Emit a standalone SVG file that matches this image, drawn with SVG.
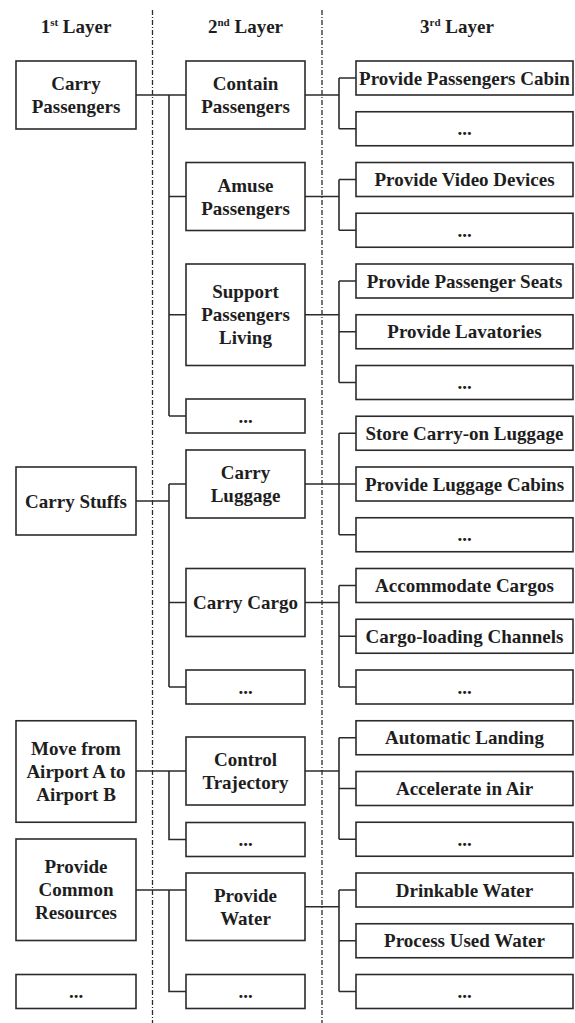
<svg xmlns="http://www.w3.org/2000/svg" width="575" height="1023" viewBox="0 0 575 1023">
<style>
rect{fill:#fff;stroke:#2b2b2b;stroke-width:1.6}
text{font-family:"Liberation Serif","Times New Roman",serif;font-weight:bold;font-size:19px;fill:#1e1e1e;text-anchor:middle}
.c path{fill:none;stroke:#2b2b2b;stroke-width:1.6}
.sep{stroke:#2b2b2b;stroke-width:1.3;stroke-dasharray:5 2 1 2}
.sup{font-size:11px}
</style>
<rect x="0" y="0" width="575" height="1023" style="fill:#fff;stroke:none"/>
<g id="separators">
<line class="sep" x1="152.5" y1="10" x2="152.5" y2="1023"/>
<line class="sep" x1="322" y1="10" x2="322" y2="1023"/>
</g>
<g id="headers">
<text x="76" y="33">1<tspan class="sup" dy="-7">st</tspan><tspan dy="7"> Layer</tspan></text>
<text x="245.5" y="33">2<tspan class="sup" dy="-7">nd</tspan><tspan dy="7"> Layer</tspan></text>
<text x="457" y="33">3<tspan class="sup" dy="-7">rd</tspan><tspan dy="7"> Layer</tspan></text>
</g>
<g id="connectors" class="c">
<path d="M136,95H186M169,95V416M169,196.5H186M169,314.75H186M169,416H186"/>
<path d="M136,501H169M169,484V687M169,484H186M169,602.5H186M169,687H186"/>
<path d="M136,771H186M169,771V839.5H186"/>
<path d="M136,890H186M169,890V991.5H186"/>
<path d="M305,95H339M339,78V128.75M339,78H356M339,128.75H356"/>
<path d="M305,196.5H339M339,179.5V230.25M339,179.5H356M339,230.25H356"/>
<path d="M305,314.75H339M339,281V382.5M339,281H356M339,331.75H356M339,382.5H356"/>
<path d="M305,484H356M339,433.25V534.75M339,433.25H356M339,534.75H356"/>
<path d="M305,602.5H339M339,585.5V687M339,585.5H356M339,636.25H356M339,687H356"/>
<path d="M305,771H339M339,737.75V839.25M339,737.75H356M339,788.5H356M339,839.25H356"/>
<path d="M305,906.75H339M339,890V991.5M339,890H356M339,940.75H356M339,991.5H356"/>
</g>
<g id="l1-carry-passengers"><rect x="16" y="61" width="120" height="68"/><text x="76" y="90">Carry</text><text x="76" y="113">Passengers</text></g>
<g id="l1-carry-stuffs"><rect x="16" y="467" width="120" height="68"/><text x="76" y="507.5">Carry Stuffs</text></g>
<g id="l1-move"><rect x="16" y="720.75" width="120" height="101.5"/><text x="76" y="755">Move from</text><text x="76" y="778">Airport A to</text><text x="76" y="801">Airport B</text></g>
<g id="l1-common"><rect x="16" y="839" width="120" height="101.5"/><text x="76" y="873">Provide</text><text x="76" y="896">Common</text><text x="76" y="919">Resources</text></g>
<g id="l1-more"><rect x="16" y="974.5" width="120" height="34"/><text x="76" y="998">...</text></g>

<g id="l2-contain"><rect x="186" y="61" width="119" height="68"/><text x="245.5" y="90">Contain</text><text x="245.5" y="113">Passengers</text></g>
<g id="l2-amuse"><rect x="186" y="162.5" width="119" height="68"/><text x="245.5" y="191.5">Amuse</text><text x="245.5" y="214.5">Passengers</text></g>
<g id="l2-support"><rect x="186" y="264" width="119" height="101.5"/><text x="245.5" y="298">Support</text><text x="245.5" y="321">Passengers</text><text x="245.5" y="344">Living</text></g>
<g id="l2-more1"><rect x="186" y="399" width="119" height="34"/><text x="245.5" y="422.5">...</text></g>
<g id="l2-luggage"><rect x="186" y="450" width="119" height="68"/><text x="245.5" y="479">Carry</text><text x="245.5" y="502">Luggage</text></g>
<g id="l2-cargo"><rect x="186" y="568.5" width="119" height="68"/><text x="245.5" y="609">Carry Cargo</text></g>
<g id="l2-more2"><rect x="186" y="670" width="119" height="34"/><text x="245.5" y="693.5">...</text></g>
<g id="l2-trajectory"><rect x="186" y="737" width="119" height="68"/><text x="245.5" y="766">Control</text><text x="245.5" y="789">Trajectory</text></g>
<g id="l2-more3"><rect x="186" y="822.5" width="119" height="34"/><text x="245.5" y="846">...</text></g>
<g id="l2-water"><rect x="186" y="873" width="119" height="67.5"/><text x="245.5" y="902">Provide</text><text x="245.5" y="925">Water</text></g>
<g id="l2-more4"><rect x="186" y="974.5" width="119" height="34"/><text x="245.5" y="998">...</text></g>

<g id="l3-cabin"><rect x="356" y="61" width="217" height="34"/><text x="464.5" y="84.5">Provide Passengers Cabin</text></g>
<g id="l3-more1"><rect x="356" y="111.75" width="217" height="34"/><text x="464.5" y="135.25">...</text></g>
<g id="l3-video"><rect x="356" y="162.5" width="217" height="34"/><text x="464.5" y="186">Provide Video Devices</text></g>
<g id="l3-more2"><rect x="356" y="213.25" width="217" height="34"/><text x="464.5" y="236.75">...</text></g>
<g id="l3-seats"><rect x="356" y="264" width="217" height="34"/><text x="464.5" y="287.5">Provide Passenger Seats</text></g>
<g id="l3-lavatories"><rect x="356" y="314.75" width="217" height="34"/><text x="464.5" y="338.25">Provide Lavatories</text></g>
<g id="l3-more3"><rect x="356" y="365.5" width="217" height="34"/><text x="464.5" y="389">...</text></g>
<g id="l3-carryon"><rect x="356" y="416.25" width="217" height="34"/><text x="464.5" y="439.75">Store Carry-on Luggage</text></g>
<g id="l3-lugcabins"><rect x="356" y="467" width="217" height="34"/><text x="464.5" y="490.5">Provide Luggage Cabins</text></g>
<g id="l3-more4"><rect x="356" y="517.75" width="217" height="34"/><text x="464.5" y="541.25">...</text></g>
<g id="l3-accommodate"><rect x="356" y="568.5" width="217" height="34"/><text x="464.5" y="592">Accommodate Cargos</text></g>
<g id="l3-channels"><rect x="356" y="619.25" width="217" height="34"/><text x="464.5" y="642.75">Cargo-loading Channels</text></g>
<g id="l3-more5"><rect x="356" y="670" width="217" height="34"/><text x="464.5" y="693.5">...</text></g>
<g id="l3-landing"><rect x="356" y="720.75" width="217" height="34"/><text x="464.5" y="744.25">Automatic Landing</text></g>
<g id="l3-accelerate"><rect x="356" y="771.5" width="217" height="34"/><text x="464.5" y="795">Accelerate in Air</text></g>
<g id="l3-more6"><rect x="356" y="822.25" width="217" height="34"/><text x="464.5" y="845.75">...</text></g>
<g id="l3-drinkable"><rect x="356" y="873" width="217" height="34"/><text x="464.5" y="896.5">Drinkable Water</text></g>
<g id="l3-usedwater"><rect x="356" y="923.75" width="217" height="34"/><text x="464.5" y="947.25">Process Used Water</text></g>
<g id="l3-more7"><rect x="356" y="974.5" width="217" height="34"/><text x="464.5" y="998">...</text></g>
</svg>
